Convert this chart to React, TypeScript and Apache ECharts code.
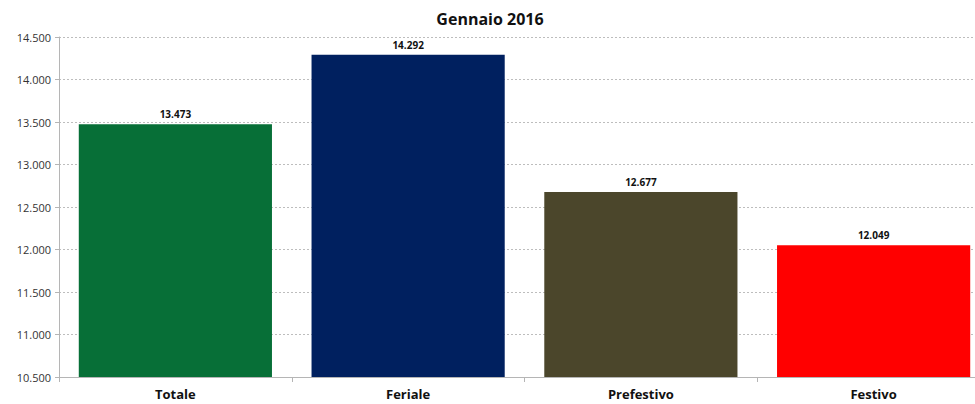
import React, { useEffect, useRef } from "react";
import * as echarts from "echarts";

const categories = ["Totale", "Feriale", "Prefestivo", "Festivo"];
const values = [13473, 14292, 12677, 12049];
const colors = ["#076f37", "#00205f", "#4b462b", "#ff0000"];
const titleText = "Gennaio 2016";

const fmt = (v: number) => {
  const s = Math.round(v).toString();
  return s.replace(/\B(?=(\d{3})+(?!\d))/g, ".");
};

export default function App() {
  const ref = useRef<HTMLDivElement>(null);
  useEffect(() => {
    if (!ref.current) return;
    const chart = echarts.init(ref.current, undefined, { renderer: "svg" });
    chart.setOption({
      animation: false,
      backgroundColor: "#ffffff",
      textStyle: { fontFamily: "'Open Sans', Lato, sans-serif" },
      title: {
        text: titleText,
        left: 485,
        textAlign: "center",
        top: 6,
        textStyle: { fontSize: 16, fontWeight: "bold", color: "#111", fontFamily: "'Open Sans', sans-serif" },
      },
      grid: { left: 59, top: 37, right: 0, bottom: 27, containLabel: false },
      xAxis: {
        type: "category",
        data: categories,
        axisLine: { lineStyle: { color: "#b5b5b5" } },
        axisTick: { show: true, length: 5, lineStyle: { color: "#b5b5b5" } },
        axisLabel: { fontSize: 13, fontWeight: "bold", color: "#111", margin: 10 },
      },
      yAxis: {
        type: "value",
        min: 10500,
        max: 14500,
        interval: 500,
        axisLine: { show: true, lineStyle: { color: "#b5b5b5" } },
        axisTick: { show: true, length: 4, lineStyle: { color: "#b5b5b5" } },
        axisLabel: { fontSize: 11, color: "#333", margin: 8, formatter: (v: number) => fmt(v) },
        splitLine: { lineStyle: { color: "#bdbdbd", type: [2, 2] } },
      },
      series: [
        {
          type: "bar",
          data: values.map((v, i) => ({ value: v, itemStyle: { color: colors[i] } })),
          barCategoryGap: "17%",
          label: {
            show: true,
            position: "top",
            distance: 5,
            fontSize: 10,
            fontWeight: "bold",
            color: "#111",
            formatter: (p: any) => fmt(p.value),
          },
        },
      ],
    });
    return () => chart.dispose();
  }, []);
  return (
    <div
      style={{ position: "fixed", left: 0, top: 0, width: 975, height: 404, overflow: "hidden", background: "#fff" }}
    >
      <div ref={ref} style={{ width: 990, height: 404 }} />
    </div>
  );
}
